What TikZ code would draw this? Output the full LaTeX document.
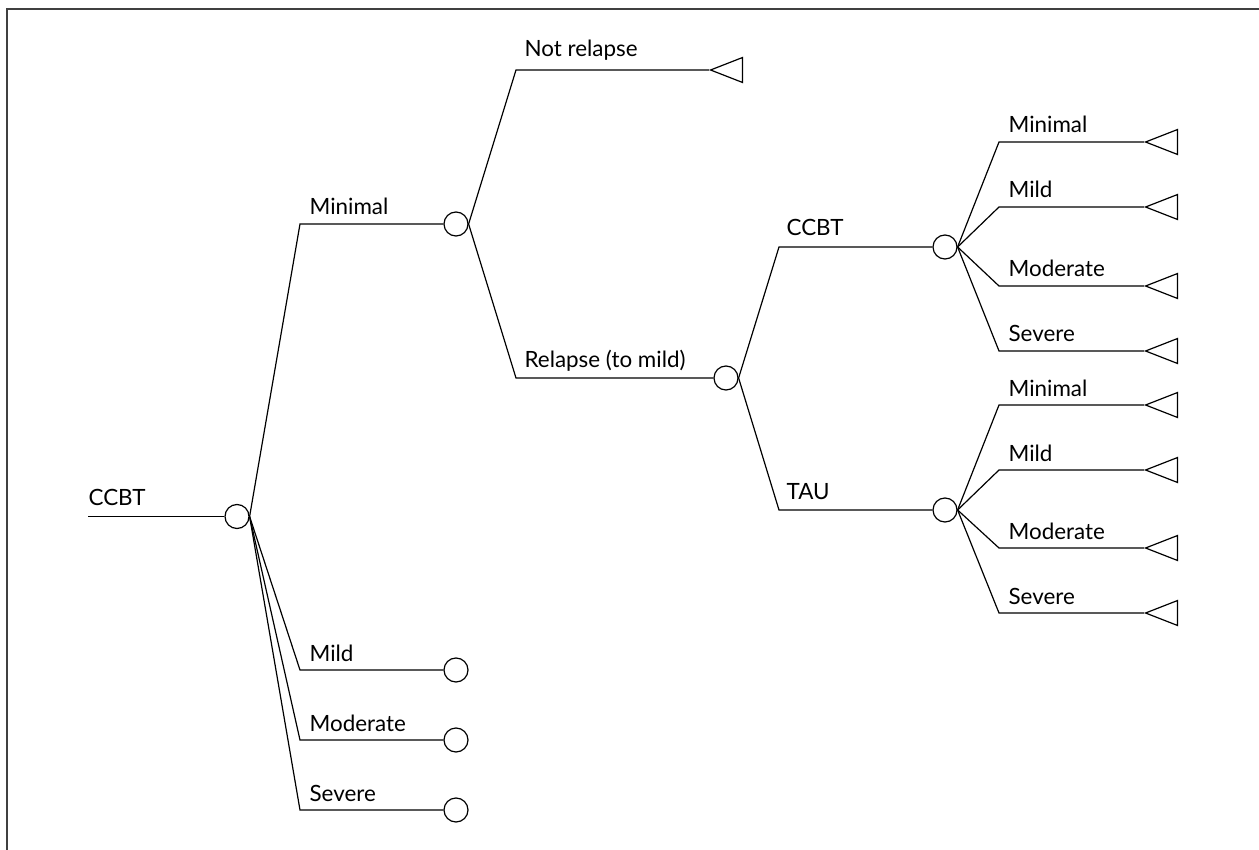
\documentclass[tikz,border=0pt]{standalone}
\usepackage{fontspec}
\setmainfont{Lato}
\usetikzlibrary{shapes.geometric}

\begin{document}
\begin{tikzpicture}[x=0.5pt, y=-0.5pt, line width=0.6pt,
  font=\fontsize{11.2}{13}\selectfont,
  chance/.style={draw, circle, minimum size=12pt, inner sep=0pt},
  term/.style={draw, isosceles triangle, isosceles triangle stretches,
    shape border rotate=180, minimum width=12.5pt, minimum height=16pt,
    inner sep=0pt},
  lbl/.style={anchor=base west, inner sep=0pt}]
  \useasboundingbox (0,0) rectangle (1259,850);
  \draw[gray!50!black, line width=0.9pt] (7,850) -- (7,9) -- (1259,9);

  % root
  \coordinate (r0) at (88,516.5);
  \node[chance] (c0) at (237,516.5) {};
  \draw (r0) -- (c0.west);
  \node[lbl] at (88,505) {CCBT};

  % first stage
  \foreach \y/\t [count=\i] in {224/Minimal,670/Mild,740/Moderate,810/Severe} {
    \coordinate (s\i) at (300,\y);
    \node[chance] (cs\i) at (456,\y) {};
    \draw (c0.east) -- (s\i) -- (cs\i.west);
    \node[lbl] at (309,\y-9) {\t};
  }

  % relapse or not
  \coordinate (n1) at (516,70);
  \node[term, anchor=apex] (tn1) at (709,70) {};
  \draw (cs1.east) -- (n1) -- (tn1.apex);
  \node[lbl] at (524,57) {Not relapse};
  \coordinate (n2) at (516,378);
  \node[chance] (cr) at (726,378) {};
  \draw (cs1.east) -- (n2) -- (cr.west);
  \node[lbl] at (524,367) {Relapse (to mild)};

  % treatment after relapse
  \coordinate (p1) at (779,247);
  \node[chance] (ca) at (945,247) {};
  \draw (cr.east) -- (p1) -- (ca.west);
  \node[lbl] at (786,236) {CCBT};
  \coordinate (p2) at (779,510);
  \node[chance] (cb) at (945,510) {};
  \draw (cr.east) -- (p2) -- (cb.west);
  \node[lbl] at (786,499) {TAU};

  \foreach \y/\t [count=\i] in {142/Minimal,207/Mild,286/Moderate,351/Severe} {
    \coordinate (a\i) at (999,\y);
    \node[term, anchor=apex] (ta\i) at (1144,\y) {};
    \draw (ca.east) -- (a\i) -- (ta\i.apex);
    \node[lbl] at (1008,\y-9) {\t};
  }
  \foreach \y/\t [count=\i] in {405/Minimal,470/Mild,548/Moderate,613/Severe} {
    \coordinate (b\i) at (999,\y);
    \node[term, anchor=apex] (tb\i) at (1144,\y) {};
    \draw (cb.east) -- (b\i) -- (tb\i.apex);
    \node[lbl] at (1008,\y-9) {\t};
  }
\end{tikzpicture}
\end{document}
